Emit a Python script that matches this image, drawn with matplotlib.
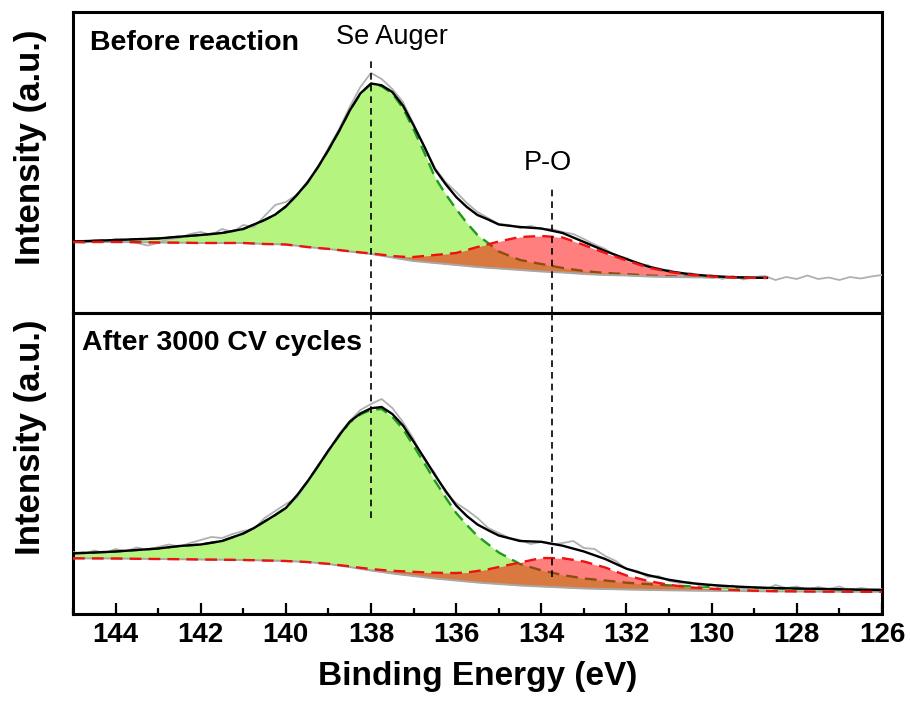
import numpy as np
import matplotlib
matplotlib.use("Agg")
import matplotlib.pyplot as plt
from matplotlib.ticker import MultipleLocator

plt.rcParams['font.family'] = ['Liberation Sans', 'DejaVu Sans']

# ---------------- data (binding energy in eV, intensity in a.u.) ----------------
fit_be_before = [145, 144.5, 144, 143.5, 143, 142.5, 142, 141.5, 141,
                 140.75, 140.5, 140.25, 140, 139.75, 139.5, 139.25, 139,
                 138.75, 138.5, 138.25, 138, 137.75, 137.5, 137.25, 137,
                 136.75, 136.5, 136.25, 136, 135.75, 135.5, 135.25, 135,
                 134.5, 134, 133.5, 133, 132.5, 132, 131.5, 131, 130.5,
                 130, 129.5, 129, 128.7]
bg_before = [71, 71, 71, 70.8, 70.5, 70.3, 70, 70, 70,
             69.5, 69, 68.8, 68.5, 67.3, 66, 65, 64,
             62.8, 61.5, 60.3, 59, 57.3, 55.5, 53.7, 52,
             51, 50, 49, 48, 47, 46, 45.2, 44.5,
             43, 41.5, 40.5, 39, 38, 37.5, 36.5, 36, 35.7,
             35.5, 35.2, 35, 35]
se_auger_before = [0.5, 1.2, 2, 3, 4, 6, 8, 10, 14,
                   19, 24, 29.6, 38, 50.3, 64, 80.6, 99,
                   119, 140.8, 159, 170, 169.4, 164, 151.2, 131.6,
                   109.5, 85.8, 70, 56, 43, 32, 24.8, 17,
                   10, 7.5, 4.5, 3, 2, 1.4, 1, 0.7, 0.5,
                   0.4, 0.3, 0.2, 0.2]
po_before = [0, 0, 0, 0, 0, 0, 0, 0, 0,
             0, 0, 0, 0, 0, 0, 0, 0.1,
             0.15, 0.2, 0.3, 0.5, 1, 1.5, 2.5, 4,
             6, 8, 10, 12, 16, 20, 23.5, 27,
             33, 35.5, 35, 29, 22, 15, 9, 5, 2.5,
             1, 0.3, 0.1, 0]

fit_be_after = [145, 144.5, 144, 143.5, 143, 142.5, 142, 141.5, 141,
                140.75, 140.5, 140.25, 140, 139.75, 139.5, 139.25, 139,
                138.75, 138.5, 138.25, 138, 137.75, 137.5, 137.25, 137,
                136.75, 136.5, 136.25, 136, 135.75, 135.5, 135.25, 135,
                134.5, 134, 133.5, 133, 132.5, 132, 131.5, 131, 130.5,
                130, 129.5, 129, 128.5, 128, 127.5, 127, 126.5, 126]
bg_after = [55.7, 55.6, 55.5, 55.2, 55, 54.8, 54.5, 54.3, 54,
            53.8, 53.5, 53.3, 53, 52.5, 52, 51, 50,
            48.5, 47, 45.2, 43.5, 42, 40.5, 39.2, 38,
            36.7, 35.5, 34.5, 33.5, 32.5, 31.5, 30.7, 30,
            28.5, 27.5, 26.5, 25.5, 25, 24.5, 24.1, 23.7, 23.4,
            23.2, 23, 22.8, 22.6, 22.5, 22.4, 22.3, 22.2, 22.2]
se_auger_after = [5, 5.9, 7, 8.8, 10.5, 13.2, 15, 18.7, 26.5,
                  32.2, 39, 45.7, 53, 65.5, 80, 96.5, 113.3,
                  129.6, 144.6, 154.3, 160.7, 163, 156.8, 145.8, 130.2,
                  114.3, 97.7, 82.2, 67.5, 56.5, 46.5, 39.1, 31.5,
                  21.5, 16.2, 12.5, 10, 8.5, 6.8, 5.8, 5, 4.3,
                  3.8, 3.5, 3.3, 3.1, 2.9, 2.7, 2.4, 2.1, 1.8]
po_after = [0, 0, 0, 0, 0, 0, 0, 0, 0,
            0, 0, 0, 0, 0, 0, 0, 0.2,
            0.4, 0.7, 1, 1.5, 2, 2.7, 3.5, 4.2,
            5, 5.8, 6.5, 7.5, 9, 11.5, 14, 17,
            23, 28.5, 29.3, 27, 21.5, 14, 9, 5.5, 3.2,
            2, 1.1, 0.5, 0.2, 0.1, 0, 0, 0, 0]

raw_be = np.round(np.arange(145.0, 125.9, -0.25), 2)
raw_before = [71, 70, 72.5, 71,
              74, 72, 70, 67.5,
              70, 74, 75, 79,
              81, 78, 84, 81,
              88, 86, 97, 108,
              111, 118, 131, 145,
              165, 184, 206, 226,
              240, 234, 224, 211,
              189, 167, 145, 131,
              121, 110, 101, 95,
              89, 88, 85, 87,
              84, 84, 81, 79,
              74, 68.5, 64, 57,
              55, 49, 48, 42,
              43, 38, 40, 36,
              38, 34, 37, 33.5,
              36, 37, 33, 36,
              34, 37.5, 34, 35.5,
              33, 36, 34.5, 36.5,
              38]
raw_after = [62, 60, 63.5, 61,
             65, 63, 66.5, 64,
             67, 69.5, 67.5, 71,
             74, 77, 76, 80,
             83, 85, 96, 103,
             110, 116, 131, 149,
             162, 180, 193, 204,
             210, 215, 206, 192,
             175, 154, 141, 121,
             111, 104, 96, 86,
             81, 76, 74, 70,
             72, 69.5, 71, 73,
             66, 65, 58, 53,
             45, 43, 37, 38,
             33, 31, 32, 28,
             29.5, 26, 28.5, 25,
             27, 24.5, 29, 26,
             27.5, 24, 27, 25,
             27.5, 23.5, 26, 24.5,
             25]

se_auger_pos = 138.0
po_pos = 133.75
panel_labels = ["Before reaction", "After 3000 CV cycles"]
xticks = [144, 142, 140, 138, 136, 134, 132, 130, 128, 126]

# ---------------- figure ----------------
fig = plt.figure(figsize=(9.11, 7.01), dpi=100)
ax_top = fig.add_axes([0.0801, 0.5535, 0.888, 0.4294])
ax_bot = fig.add_axes([0.0801, 0.1241, 0.888, 0.4294])

GREEN_FILL = '#6beb00'
RED_FILL = '#ff0000'
GREEN_LINE = '#1f9a1f'
RED_LINE = '#ee1111'


def draw_panel(ax, be, bg, se, po, rbe, raw):
    be = np.asarray(be, float)
    bg = np.asarray(bg, float)
    se = np.asarray(se, float)
    po = np.asarray(po, float)
    ax.fill_between(be, bg, bg + se, color=GREEN_FILL, alpha=0.5, lw=0, zorder=1)
    ax.plot(be, bg + se, color=GREEN_LINE, lw=1.7, dashes=(5, 3), zorder=2)
    ax.fill_between(be, bg, bg + po, color=RED_FILL, alpha=0.5, lw=0, zorder=3)
    ax.plot(rbe, raw, color='#b0b0b0', lw=1.3, zorder=4)
    ax.plot(be, bg, color='#a8a8a8', lw=1.4, zorder=4)
    ax.plot(be, bg + se + po, color='black', lw=1.7, zorder=5)
    ax.plot(be, bg + po, color=RED_LINE, lw=1.7, dashes=(5, 3), zorder=6)


draw_panel(ax_top, fit_be_before, bg_before, se_auger_before, po_before,
           raw_be, raw_before)
draw_panel(ax_bot, fit_be_after, bg_after, se_auger_after, po_after,
           raw_be, raw_after)

for ax in (ax_top, ax_bot):
    ax.set_xlim(145, 126)
    ax.set_ylim(0, 301)
    for sp in ax.spines.values():
        sp.set_linewidth(2.2)
    ax.tick_params(axis='y', left=False, labelleft=False)

ax_top.tick_params(axis='x', bottom=False, labelbottom=False)
ax_bot.xaxis.set_minor_locator(MultipleLocator(1))
ax_bot.set_xticks(xticks)
ax_bot.tick_params(axis='x', which='major', direction='in', length=8, width=1.6,
                   pad=6, labelsize=20)
ax_bot.tick_params(axis='x', which='minor', direction='in', length=4, width=1.6)
for lab in ax_bot.get_xticklabels():
    lab.set_fontweight('bold')
ax_bot.set_xlabel("Binding Energy (eV)", fontsize=24, fontweight='bold',
                  labelpad=9)

# reference dashed lines
ax_top.plot([se_auger_pos, se_auger_pos], [0, 255], color='black', lw=1.2,
            dashes=(4, 3), zorder=7, clip_on=False)
ax_bot.plot([se_auger_pos, se_auger_pos], [96, 301], color='black', lw=1.2,
            dashes=(4, 3), zorder=7, clip_on=False)
ax_top.plot([po_pos, po_pos], [0, 128], color='black', lw=1.2,
            dashes=(4, 3), zorder=7, clip_on=False)
ax_bot.plot([po_pos, po_pos], [37, 301], color='black', lw=1.2,
            dashes=(4, 3), zorder=7, clip_on=False)

# annotations
ax_top.text(137.5, 276, "Se Auger", fontsize=19.5, ha='center', va='center')
ax_top.text(133.84, 150, "P-O", fontsize=19.5, ha='center', va='center')
ax_top.text(0.021, 0.897, panel_labels[0], transform=ax_top.transAxes,
            fontsize=20.5, fontweight='bold', ha='left', va='center')
ax_bot.text(0.011, 0.90, panel_labels[1], transform=ax_bot.transAxes,
            fontsize=20.5, fontweight='bold', ha='left', va='center')

fig.text(0.033, 1 - 147 / 701, "Intensity (a.u.)", rotation=90, fontsize=25,
         fontweight='bold', ha='center', va='center')
fig.text(0.033, 1 - 437 / 701, "Intensity (a.u.)", rotation=90, fontsize=25,
         fontweight='bold', ha='center', va='center')

fig.savefig("out.png", dpi=100)
